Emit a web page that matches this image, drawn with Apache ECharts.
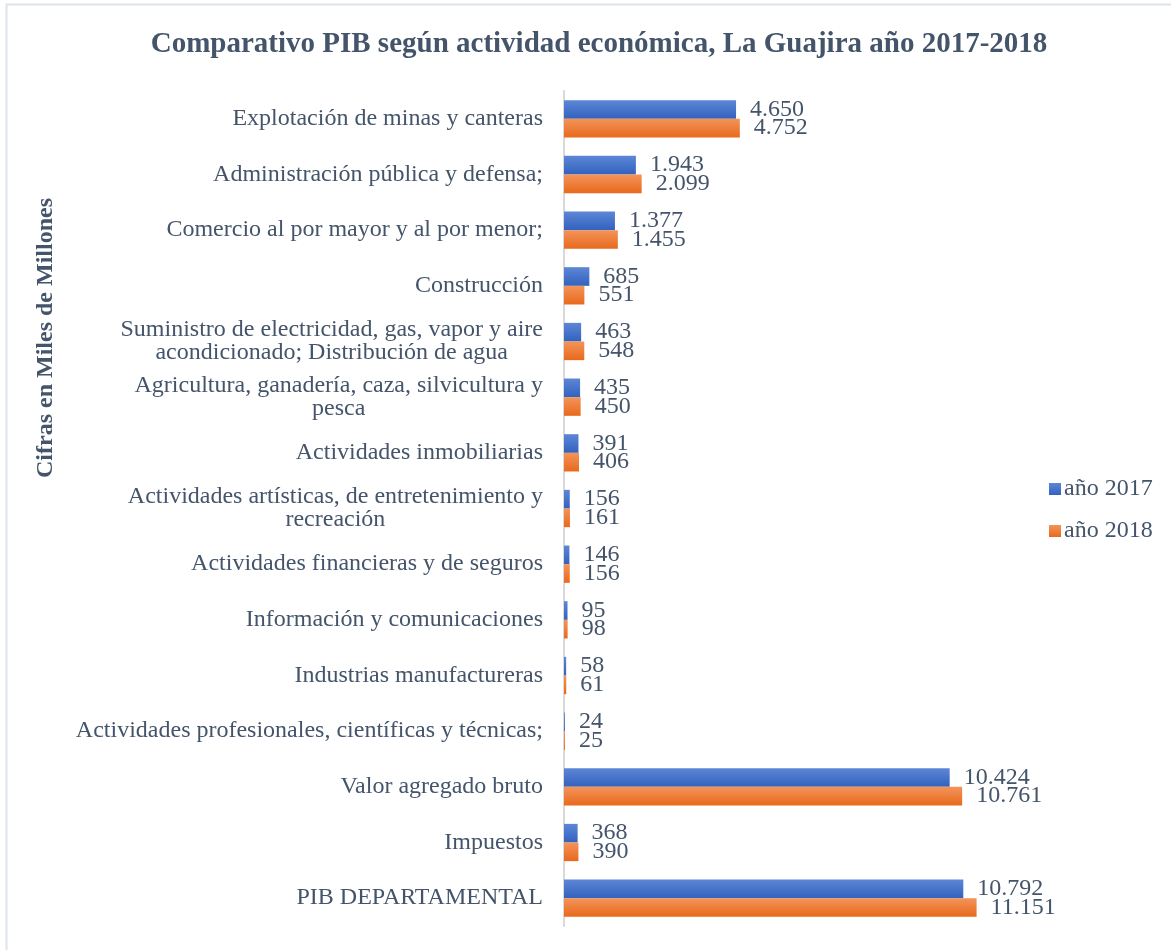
<!DOCTYPE html>
<html>
<head>
<meta charset="utf-8">
<script src="https://cdn.jsdelivr.net/npm/echarts@6/dist/echarts.min.js"></script>
<style>html,body{margin:0;padding:0;background:#fff}#c{width:1171px;height:950px}</style>
</head>
<body>
<div id="c"></div>
<script>
const categories = [
  "Explotación de minas y canteras",
  "Administración pública y defensa;",
  "Comercio al por mayor y al por menor;",
  "Construcción",
  "Suministro de electricidad, gas, vapor y aire\nacondicionado; Distribución de agua",
  "Agricultura, ganadería, caza, silvicultura y\npesca",
  "Actividades inmobiliarias",
  "Actividades artísticas, de entretenimiento y\nrecreación",
  "Actividades financieras y de seguros",
  "Información y comunicaciones",
  "Industrias manufactureras",
  "Actividades profesionales, científicas y técnicas;",
  "Valor agregado bruto",
  "Impuestos",
  "PIB DEPARTAMENTAL"
];
const values2017 = [4650, 1943, 1377, 685, 463, 435, 391, 156, 146, 95, 58, 24, 10424, 368, 10792];
const values2018 = [4752, 2099, 1455, 551, 548, 450, 406, 161, 156, 98, 61, 25, 10761, 390, 11151];
const seriesNames = ["año 2017", "año 2018"];

const TXT = '#44546a';
const FONT = '"Liberation Serif", "Times New Roman", serif';
const fmt = v => String(v).replace(/\B(?=(\d{3})+(?!\d))/g, '.');

const chart = echarts.init(document.getElementById('c'));
const grad = (a, b) => new echarts.graphic.LinearGradient(0, 0, 0, 1, [{offset: 0, color: a}, {offset: 1, color: b}]);

chart.setOption({
  backgroundColor: '#fff',
  animation: false,
  title: {
    text: 'Comparativo PIB según actividad económica, La Guajira año 2017-2018',
    left: 594, textAlign: 'center', top: 25,
    textStyle: {fontFamily: FONT, fontSize: 29, fontWeight: 'bold', color: TXT}
  },
  graphic: [
    {type: 'rect', shape: {x: 6.5, y: 4.5, width: 1200, height: 1000}, style: {fill: 'none', stroke: '#dde3ea', lineWidth: 2}, silent: true},
    {type: 'text', x: 46, y: 338, rotation: Math.PI / 2,
     style: {text: 'Cifras en Miles de Millones', font: 'bold 24px ' + FONT, fill: TXT, align: 'center', verticalAlign: 'middle'}}
  ],
  legend: {
    orient: 'vertical', left: 1044, top: 472,
    itemWidth: 12, itemHeight: 12, itemGap: 18,
    icon: 'rect',
    textStyle: {fontFamily: FONT, fontSize: 24, color: TXT, padding: [0, 0, 0, -2]},
    data: seriesNames
  },
  grid: {left: 564, right: 163, top: 91, bottom: 24, containLabel: false},
  xAxis: {
    type: 'value', min: 0, max: 12000, show: false
  },
  yAxis: {
    type: 'category', inverse: true, data: categories,
    axisLine: {show: true, lineStyle: {color: '#d9d9d9', width: 2}},
    axisTick: {show: false},
    splitLine: {show: false},
    axisLabel: {
      margin: 21, color: TXT, fontFamily: FONT, fontSize: 24, lineHeight: 23,
      formatter: v => v.indexOf('\n') >= 0 ? v.split('\n').map(l => '{c|' + l + '}').join('\n') : v,
      rich: {c: {align: 'center', fontFamily: FONT, fontSize: 24, color: TXT, lineHeight: 23}}
    }
  },
  series: [
    {
      name: seriesNames[0], type: 'bar', data: values2017,
      barGap: '0%', barCategoryGap: '33%',
      itemStyle: {color: grad('#5d86d6', '#3262be')},
      label: {show: true, position: 'right', distance: 14, formatter: p => fmt(p.value),
              fontFamily: FONT, fontSize: 24, color: TXT}
    },
    {
      name: seriesNames[1], type: 'bar', data: values2018,
      itemStyle: {color: grad('#f3945a', '#e8691c')},
      label: {show: true, position: 'right', distance: 14, formatter: p => fmt(p.value),
              fontFamily: FONT, fontSize: 24, color: TXT}
    }
  ]
});
</script>
</body>
</html>
